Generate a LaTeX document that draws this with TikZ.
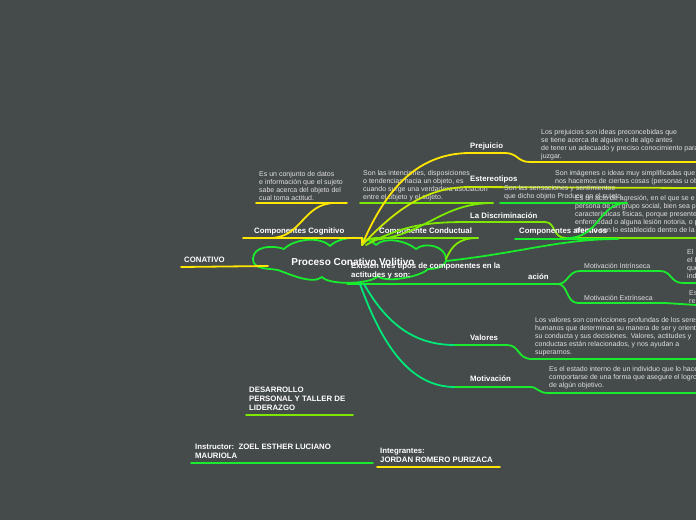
\documentclass[tikz,border=0pt]{standalone}
\usepackage{fontspec}
\setmainfont{Liberation Sans}
\usepackage{xcolor}
\definecolor{slate}{RGB}{69,74,74}
\definecolor{mapyellow}{RGB}{255,230,0}
\definecolor{mapolive}{RGB}{200,232,0}
\definecolor{maplime}{RGB}{125,232,0}
\definecolor{mapgreen}{RGB}{25,235,45}
\definecolor{mapteal}{RGB}{0,232,120}
\definecolor{notegray}{RGB}{225,225,225}
\usetikzlibrary{positioning,calc}

\begin{document}
\begin{tikzpicture}[x=1pt, y=-1pt]
        \tikzset{
          topic/.style={anchor=base west, inner sep=0pt, text=white,
                        font=\bfseries\fontsize{7.8}{9}\selectfont, align=left},
          subtopic/.style={anchor=base west, inner sep=0pt, text=notegray,
                        font=\fontsize{7}{8}\selectfont},
          note/.style={anchor=south west, inner sep=0pt, text=notegray,
                        font=\fontsize{7}{8}\selectfont, align=left},
          branch/.style={line width=1.8pt, line cap=round},
          puff/.style={line width=1.8pt, draw=mapgreen, line join=round}
        }
        \fill[slate] (0,0) rectangle (696,520);
        \useasboundingbox (0,0) rectangle (696,520);
        \clip (0,0) rectangle (696,520);
        % Central topic
        \draw[puff] (253,259) to[out=90,in=160] (284,249)
              to[out=45,in=135,looseness=.8] (330,246)
              to[out=45,in=135,looseness=.8] (376,245)
              to[out=45,in=140,looseness=.8] (416,249)
              to[out=40,in=90] (446,259)
              to[out=-90,in=0] (428,269)
              to[out=-130,in=-50,looseness=.5] (378,276)
              to[out=-130,in=-50,looseness=.5] (322,277)
              to[out=-140,in=-20,looseness=.7] (278,270)
              to[out=170,in=-90] cycle;
        \node[text=white, font=\bfseries\fontsize{10}{12}\selectfont] (title) at (353,262) {Proceso Conativo Volitivo};
        \coordinate (hub) at (362,245);
        \coordinate (root) at (364,284);
        \coordinate (cloudE) at (446,261);
        % Conativo
        \node[topic] (conativo) at (184,262) {CONATIVO};
        \coordinate (conL) at (181,267);
        \coordinate (conR) at (268,266);
        \draw[branch, mapyellow] (conL) -- (conR);
        % Componentes Cognitivo
        \node[topic] (cognitivo) at (254,233) {Componentes Cognitivo};
        \coordinate (cogL) at (243,238);
        \coordinate (cogR) at (362,238);
        \draw[branch, mapyellow] (cogL) -- (cogR) -- (hub);
        \node[note] (cognote) at (259,201) {Es un conjunto de datos\\e información que el sujeto\\sabe acerca del objeto del\\cual toma actitud.};
        \coordinate (cognoteL) at (256,203);
        \coordinate (cognoteR) at (347,203);
        \draw[branch, mapyellow] (cognoteL) -- (cognoteR);
        \draw[branch, mapyellow] (270,238) .. controls (302,238) and (303,203) .. (335,203);
        % Componente Conductual
        \node[topic] (conductual) at (379,233) {Componente Conductual};
        \coordinate (condL) at (375,238);
        \coordinate (condR) at (478,238);
        \draw[branch, maplime] (hub) .. controls (368,239) .. (condL) -- (condR);
        \draw[branch, maplime] (446,259) .. controls (452,246) and (458,238) .. (condR);
        \node[note] (condnote) at (363,201) {Son las intenciones, disposiciones\\o tendencias hacia un objeto, es\\cuando surge una verdadera asociación\\entre el objeto y el sujeto.};
        \coordinate (condnoteL) at (360,203);
        \coordinate (condnoteR) at (493,203);
        \draw[branch, maplime] (condnoteL) -- (condnoteR);
        \draw[branch, maplime] (372,240) .. controls (425,236) and (440,203) .. (condnoteR);
        % Prejuicio
        \node[topic] (prejuicio) at (470,148) {Prejuicio};
        \coordinate (prejL) at (470,153);
        \coordinate (prejR) at (696,162);
        \draw[branch, mapyellow] (hub) .. controls (382,198) and (412,153) .. (prejL)
              -- (505,153) .. controls (518,153) and (517,162) .. (530,162) -- (prejR);
        \node[note] (prejnote) at (541,160) {Los prejuicios son ideas preconcebidas que\\se tiene acerca de alguien o de algo antes\\de tener un adecuado y preciso conocimiento para\\juzgar.};
        % Estereotipos
        \node[topic] (estereo) at (470,181) {Estereotipos};
        \coordinate (esteL) at (470,187);
        \coordinate (esteR) at (696,188);
        \draw[branch, mapolive] (hub) .. controls (400,205) and (430,187) .. (esteL) -- (esteR);
        \node[note] (estenote) at (555,185) {Son imágenes o ideas muy simplificadas que\\nos hacemos de ciertas cosas (personas u ob};
        % La Discriminacion
        \node[topic] (discrim) at (470,218) {La Discriminación};
        \coordinate (discL) at (470,222);
        \coordinate (discR) at (696,238);
        \draw[branch, maplime] (366,245) .. controls (405,224) and (430,222) .. (discL)
              -- (545,222) .. controls (556,222) and (552,238) .. (566,238) -- (discR);
        \node[note] (discnote) at (575,234) {Es un acto de agresión, en el que se e\\persona de un grupo social, bien sea p\\características físicas, porque presente\\enfermedad o alguna lesión notoria, o p\\alejado con lo establecido dentro de la};
        % Componentes afectivos
        \node[topic] (afectivos) at (519,233) {Componentes afectivos};
        \coordinate (afeL) at (515,239);
        \coordinate (afeR) at (618,239);
        \draw[branch, mapgreen] (afeL) -- (afeR);
        \draw[branch, mapgreen] (cloudE) .. controls (520,253) and (560,239) .. (afeR);
        \node[note] (afenote) at (504,200) {Son las sensaciones y sentimientos\\que dicho objeto Produce en el sujeto.};
        \coordinate (afenoteL) at (500,203);
        \coordinate (afenoteR) at (627,203);
        \draw[branch, mapgreen] (afenoteL) -- (afenoteR);
        \draw[branch, mapgreen] (567,238) .. controls (600,238) and (598,203) .. (afenoteR);
        % Tipos de componentes
        \node[topic, anchor=south west] (tipos) at (351,279) {Existen tres tipos de componentes en la\\actitudes y son:};
        \node[topic] (motiv) at (528,279) {ación};
        \coordinate (tiposL) at (347,284);
        \coordinate (fork) at (558,284);
        \draw[branch, mapgreen] (tiposL) -- (fork);
        \node[subtopic] (intrin) at (584,268) {Motivación Intrínseca};
        \node[subtopic] (extrin) at (584,300) {Motivación Extrínseca};
        \draw[branch, mapgreen] (fork) .. controls (568,284) and (568,271) .. (580,271) -- (660,271)
              .. controls (672,271) and (670,283) .. (683,283) -- (696,283);
        \draw[branch, mapgreen] (fork) .. controls (568,284) and (566,303) .. (578,303) -- (665,303)
              -- (696,305);
        \node[note] (intrinnote) at (687,279) {El\\el I\\que\\ind};
        \node[note] (extrinnote) at (689,304) {Es\\re};
        % Valores
        \node[topic] (valores) at (470,340) {Valores};
        \coordinate (valL) at (455,345);
        \draw[branch, mapteal] (root) .. controls (390,330) and (420,345) .. (valL);
        \draw[branch, mapgreen] (valL) -- (507,345) .. controls (520,345) and (517,359) .. (532,359) -- (696,359);
        \node[note] (valnote) at (535,356) {Los valores son convicciones profundas de los seres\\humanos que determinan su manera de ser y orientan\\su conducta y sus decisiones. Valores, actitudes y\\conductas están relacionados, y nos ayudan a\\superarnos.};
        % Motivacion
        \node[topic] (motivacion) at (470,381) {Motivación};
        \coordinate (motL) at (455,387);
        \draw[branch, mapteal] (360,284) .. controls (382,345) and (410,387) .. (motL);
        \draw[branch, mapgreen] (motL) -- (530,387) .. controls (538,387) and (538,393) .. (548,393) -- (696,393);
        \node[note] (motnote) at (549,389) {Es el estado interno de un individuo que lo hace\\comportarse de una forma que asegure el logro\\de algún objetivo.};
        % Footer
        \node[topic, anchor=south west] (curso) at (249,411) {DESARROLLO\\PERSONAL Y TALLER DE\\LIDERAZGO};
        \draw[branch, maplime] (246,415) coordinate (cursoL) -- (353,415) coordinate (cursoR);
        \node[topic, anchor=south west] (instructor) at (195,459) {Instructor:\ \ ZOEL ESTHER LUCIANO\\MAURIOLA};
        \draw[branch, mapgreen] (191,463) coordinate (instL) -- (373,463) coordinate (instR);
        \node[topic, anchor=south west] (integrantes) at (380,463) {Integrantes:\\JORDAN ROMERO PURIZACA};
        \draw[branch, mapyellow] (377,467) coordinate (intL) -- (500,467) coordinate (intR);
      \end{tikzpicture}
\end{document}
